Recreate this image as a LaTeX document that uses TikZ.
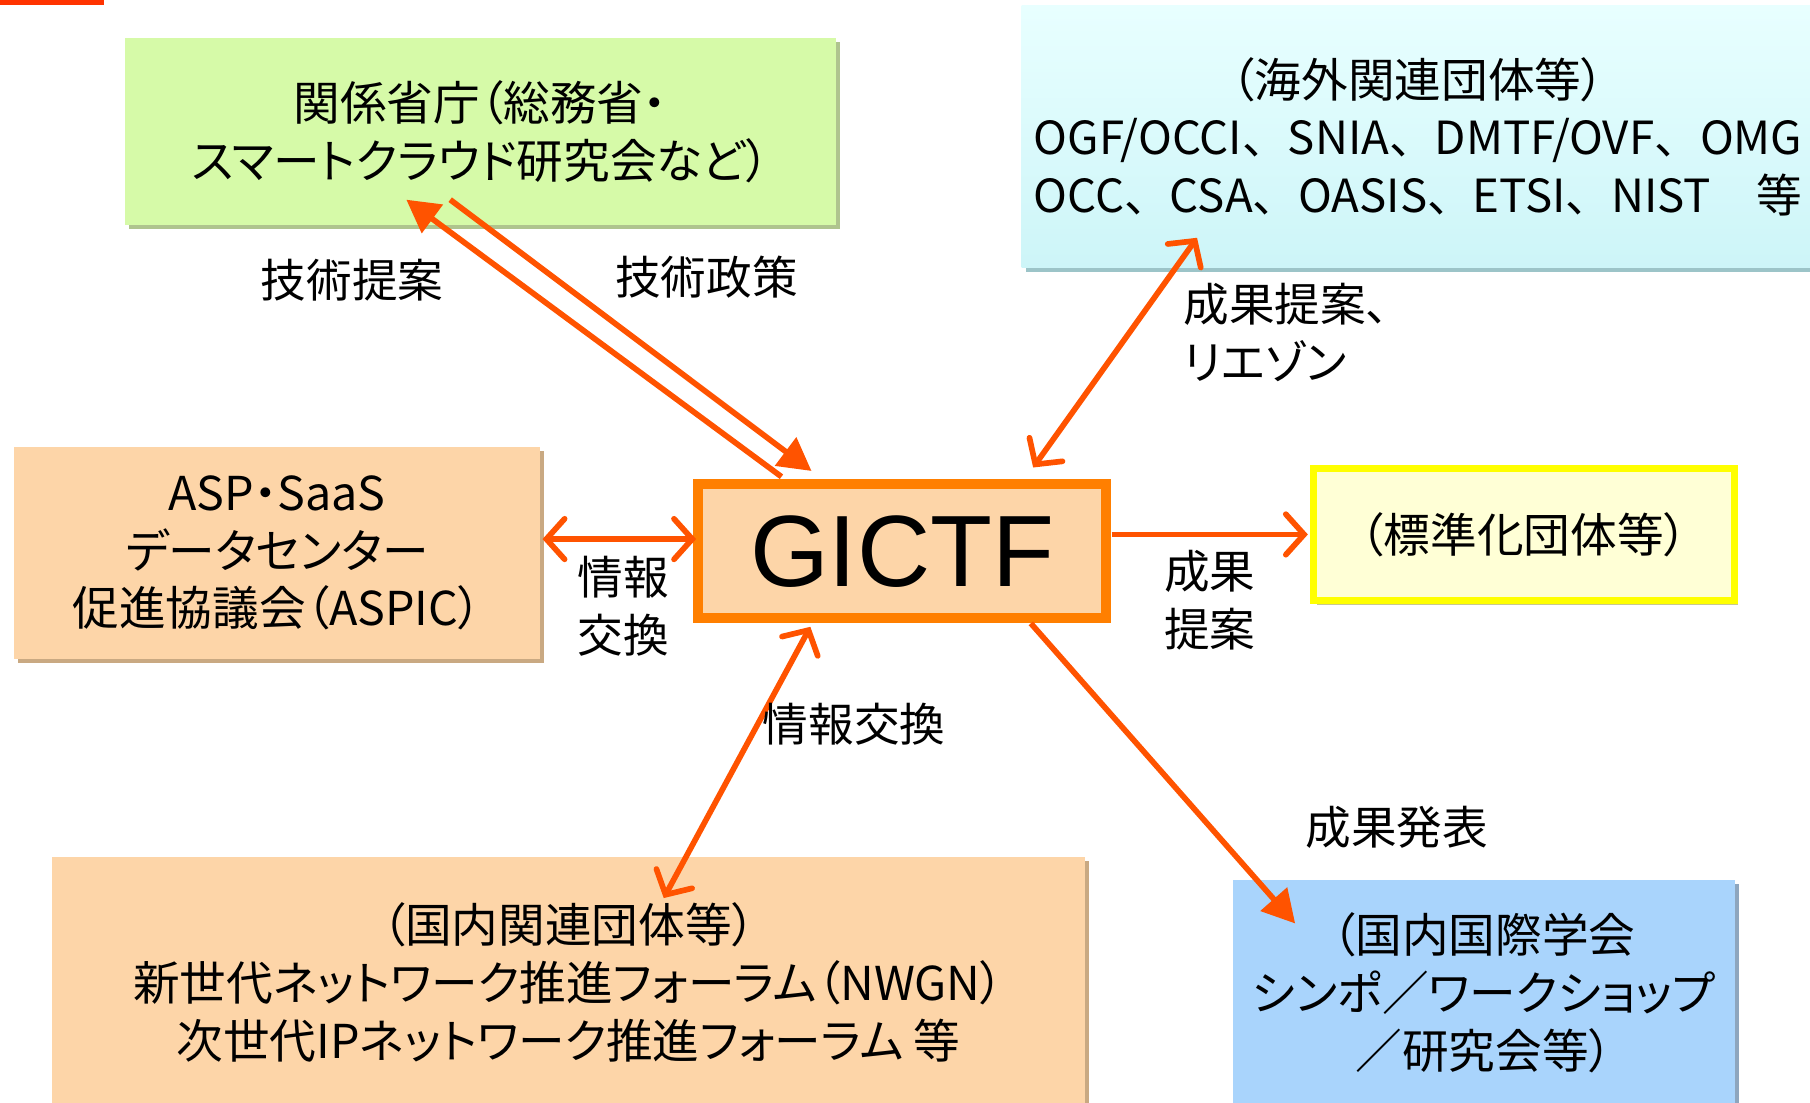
\documentclass[tikz,border=0pt]{standalone}
\usepackage{fontspec}
\setmainfont{Noto Sans CJK JP}[RawFeature=+palt]
\newfontfamily\fullwidth{Noto Sans CJK JP}
\newfontfamily\latinsans{Liberation Sans}
\usetikzlibrary{arrows.meta,shadows}
\definecolor{greenfill}{HTML}{D6FAA8}
\definecolor{greenshadow}{HTML}{AFC48E}
\definecolor{peachfill}{HTML}{FDD5A8}
\definecolor{peachshadow}{HTML}{C9A982}
\definecolor{gictfborder}{HTML}{FF7F00}
\definecolor{yellowfill}{HTML}{FFFFD6}
\definecolor{yellowborder}{HTML}{FFFF00}
\definecolor{yellowshadow}{HTML}{C8C890}
\definecolor{bluefill}{HTML}{A9D4FC}
\definecolor{blueshadow}{HTML}{8EA6BE}
\definecolor{cyantop}{HTML}{E8FFFF}
\definecolor{cyanbottom}{HTML}{CDF5F8}
\definecolor{cyanshadow}{HTML}{9CC4C8}
\definecolor{arrowcol}{HTML}{FF5300}
\definecolor{redbar}{HTML}{FF3300}
\tikzset{
  x=0.02cm, y=-0.02cm,
  boxtext/.style={font=\fontsize{23}{28.5}\selectfont, align=center, inner sep=0pt},
  labeltext/.style={font=\fontsize{22.5}{28.5}\selectfont, align=center, inner sep=0pt},
  box/.style={rectangle, inner sep=0pt, boxtext},
  sh/.style={drop shadow={shadow xshift=0.07cm, shadow yshift=-0.07cm, fill=#1, opacity=1}},
  conn/.style={draw=arrowcol, line width=2.8pt},
  tri/.style={-{Triangle[length=16pt, width=17pt]}},
  barb/.style={-{Straight Barb[length=9pt, width=20pt, line cap=round]}},
  dbarb/.style={{Straight Barb[length=9pt, width=20pt, line cap=round]}-{Straight Barb[length=9pt, width=20pt, line cap=round]}},
}
\begin{document}
\begin{tikzpicture}
\useasboundingbox (0,0) rectangle (1568,955);
\fill[white] (0,0) rectangle (1568,955);
\fill[redbar] (0,0) rectangle (90,4);

% boxes
\node[box, sh=greenshadow, fill=greenfill, minimum width=12.32cm, minimum height=3.24cm] (gov) at (416,114)
  {関係省庁（総務省・\\スマートクラウド研究会など）};
\node[box, sh=cyanshadow, top color=cyantop, bottom color=cyanbottom, minimum width=13.74cm, minimum height=4.54cm] (intl) at (1228.5,118.5)
  {（海外関連団体等）\\{\fullwidth\fontsize{22.5}{28.5}\selectfont OGF/OCCI、SNIA、DMTF/OVF、OMG}\\{\fullwidth\fontsize{22.5}{28.5}\selectfont OCC、CSA、OASIS、ETSI、NIST　等}};
\node[box, sh=peachshadow, fill=peachfill, minimum width=9.12cm, minimum height=3.68cm] (aspic) at (240,479)
  {ASP・SaaS\\データセンター\\促進協議会（ASPIC）};
\node[rectangle, sh=peachshadow, fill=peachfill, draw=gictfborder, line width=5pt, minimum width=7.08cm, minimum height=2.32cm, inner sep=0pt, font=\latinsans\fontsize{50}{50}\selectfont] (gictf) at (781.5,477.5)
  {GICTF};
\node[box, sh=yellowshadow, fill=yellowfill, draw=yellowborder, line width=3.5pt, minimum width=7.3cm, minimum height=2.3cm] (std) at (1320,463)
  {（標準化団体等）};
\node[box, sh=peachshadow, fill=peachfill, minimum width=17.9cm, minimum height=4.36cm] (dom) at (492.5,851)
  {（国内関連団体等）\\新世代ネットワーク推進フォーラム（NWGN）\\次世代IPネットワーク推進フォーラム 等};
\node[box, sh=blueshadow, fill=bluefill, minimum width=8.7cm, minimum height=3.9cm] (acad) at (1285.5,860)
  {（国内国際学会\\シンポ／ワークショップ\\／研究会等）};

% connector end points
\coordinate (p1a) at (677,413); \coordinate (p1b) at (352,173);
\coordinate (p2a) at (390,173); \coordinate (p2b) at (703,408);
\coordinate (p3a) at (1037,206); \coordinate (p3b) at (895,405);
\coordinate (p4a) at (470,467); \coordinate (p4b) at (603,467);
\coordinate (p5a) at (963,463); \coordinate (p5b) at (1133,463);
\coordinate (p6a) at (702,543); \coordinate (p6b) at (575,778);
\coordinate (p7a) at (893,540); \coordinate (p7b) at (1122,800);

\draw[conn, tri] (p1a) -- (p1b);
\draw[conn, tri] (p2a) -- (p2b);
\draw[conn, dbarb] (p3a) -- (p3b);
\draw[conn, dbarb] (p4a) -- (p4b);
\draw[conn, barb] (p5a) -- (p5b);
\draw[conn, dbarb] (p6a) -- (p6b);
\draw[conn, tri] (p7a) -- (p7b);

% labels
\node[labeltext] (l1) at (305,243) {技術提案};
\node[labeltext] (l2) at (612,240) {技術政策};
\node[labeltext, anchor=west, align=left] (l3) at (1025,288) {成果提案、\\リエゾン};
\node[labeltext] (l4) at (540,525) {情報\\交換};
\node[labeltext] (l5) at (1048,520) {成果\\提案};
\node[labeltext] (l6) at (740,627) {情報交換};
\node[labeltext] (l7) at (1210,717) {成果発表};
\end{tikzpicture}
\end{document}
